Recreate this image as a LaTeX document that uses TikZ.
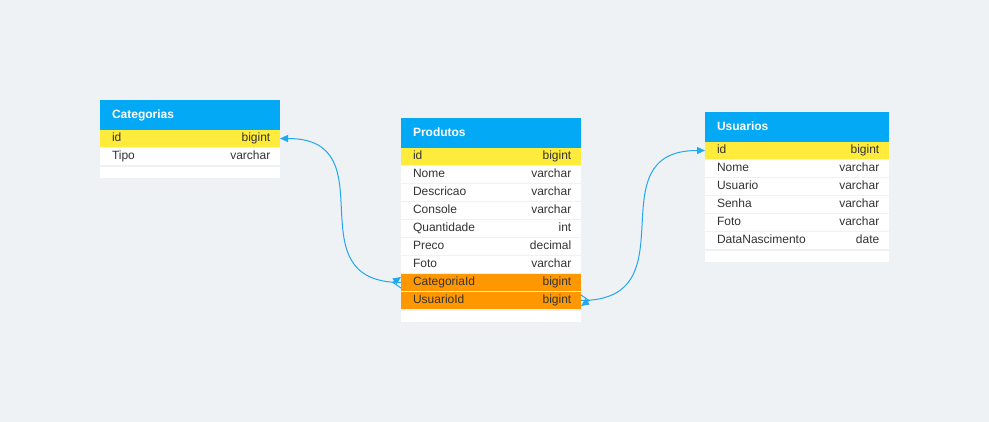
\documentclass[tikz,border=0pt]{standalone}
\usepackage{fontspec}
\setmainfont{Liberation Sans}
\usetikzlibrary{arrows.meta}
\usetikzlibrary{decorations.markings}
\usetikzlibrary{positioning}
\definecolor{bg}{RGB}{238,242,245}
\definecolor{hdblue}{RGB}{3,169,244}
\definecolor{keyyellow}{RGB}{255,235,59}
\definecolor{fkorange}{RGB}{255,152,0}
\definecolor{txt}{RGB}{51,51,51}
\definecolor{linkblue}{RGB}{33,168,238}
\tikzset{cell/.style = {inner xsep = 12pt, inner ysep = 0pt, outer sep = 0pt,
                        text width = 156pt, align = left,
                        text height = 8.6pt, text depth = 2.5pt,
                        font = \fontsize{12}{14}\selectfont}}
\tikzset{head/.style = {cell, fill = hdblue, text = white, minimum height = 30pt,
                        font = \bfseries\fontsize{12}{14}\selectfont}}
\tikzset{field/.style = {cell, fill = white, text = txt, minimum height = 17pt}}
\tikzset{pk/.style = {field, fill = keyyellow}}
\tikzset{fk/.style = {field, fill = fkorange}}
\tikzset{foot/.style = {cell, fill = white, text height = 0pt, text depth = 0pt,
                        minimum height = 11pt}}
\tikzset{wide/.style = {text width = 160pt}}
\tikzset{type/.style = {anchor = east, xshift = -9.5pt, inner sep = 0pt, text = txt,
                        text height = 8.6pt, text depth = 2.5pt,
                        font = \fontsize{12}{14}\selectfont}}
\tikzset{link/.style = {color = linkblue, line width = 1pt,
                        -{Triangle[length = 8pt, width = 7pt]},
                        decoration = {markings,
                                      mark = at position 0 with {\draw [line width = 1pt] (0pt, 5.5pt) -- (8pt, 0pt) -- (0pt, -5.5pt);}},
                        postaction = {decorate}}}

\begin{document}
\begin{tikzpicture}[x = 1pt, y = 1pt]
      \path [use as bounding box, fill = bg] (0, 0) rectangle (989, -422);

      \node [head, anchor = north west] (cat) at (100, -100) {Categorias};
      \node [pk, below = 0pt of cat, label = {[type]east:bigint}] (cat-id) {id};
      \node [field, below = 1pt of cat-id, label = {[type]east:varchar}] (cat-tipo) {Tipo};
      \node [foot, below = 2pt of cat-tipo] (cat-foot) {};

      \node [head, anchor = north west] (prod) at (401, -118) {Produtos};
      \node [pk, below = 0pt of prod, label = {[type]east:bigint}] (prod-id) {id};
      \node [field, below = 1pt of prod-id, label = {[type]east:varchar}] (prod-nome) {Nome};
      \node [field, below = 1pt of prod-nome, label = {[type]east:varchar}] (prod-desc) {Descricao};
      \node [field, below = 1pt of prod-desc, label = {[type]east:varchar}] (prod-cons) {Console};
      \node [field, below = 1pt of prod-cons, label = {[type]east:int}] (prod-qtd) {Quantidade};
      \node [field, below = 1pt of prod-qtd, label = {[type]east:decimal}] (prod-preco) {Preco};
      \node [field, below = 1pt of prod-preco, label = {[type]east:varchar}] (prod-foto) {Foto};
      \node [fk, below = 1pt of prod-foto, label = {[type]east:bigint}] (prod-cat) {CategoriaId};
      \node [fk, below = 1pt of prod-cat, label = {[type]east:bigint}] (prod-usr) {UsuarioId};
      \node [foot, below = 2pt of prod-usr] (prod-foot) {};

      \node [head, wide, anchor = north west] (usr) at (705, -112) {Usuarios};
      \node [pk, wide, below = 0pt of usr, label = {[type]east:bigint}] (usr-id) {id};
      \node [field, wide, below = 1pt of usr-id, label = {[type]east:varchar}] (usr-nome) {Nome};
      \node [field, wide, below = 1pt of usr-nome, label = {[type]east:varchar}] (usr-login) {Usuario};
      \node [field, wide, below = 1pt of usr-login, label = {[type]east:varchar}] (usr-senha) {Senha};
      \node [field, wide, below = 1pt of usr-senha, label = {[type]east:varchar}] (usr-foto) {Foto};
      \node [field, wide, below = 1pt of usr-foto, label = {[type]east:date}] (usr-nasc) {DataNascimento};
      \node [foot, wide, below = 2pt of usr-nasc] (usr-foot) {};

      \draw [link] (prod-cat.west) .. controls +(-110, 0) and +(110, 0) .. (cat-id.east);
      \draw [link] (prod-usr.east) .. controls +(112, 0) and +(-112, 0) .. (usr-id.west);
\end{tikzpicture}
\end{document}
